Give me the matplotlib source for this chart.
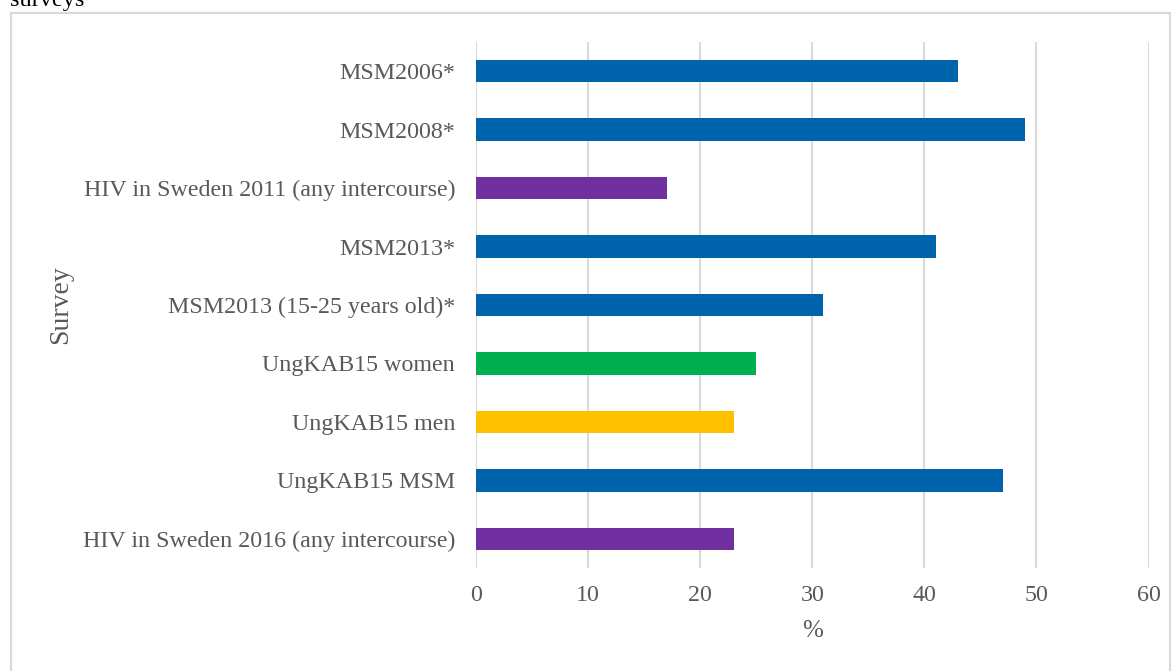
import matplotlib
matplotlib.use("Agg")
import matplotlib.pyplot as plt
from matplotlib.patches import Rectangle

# Survey results (% reporting), top to bottom as listed
surveys = [
    "MSM2006*",
    "MSM2008*",
    "HIV in Sweden 2011 (any intercourse)",
    "MSM2013*",
    "MSM2013 (15-25 years old)*",
    "UngKAB15 women",
    "UngKAB15 men",
    "UngKAB15 MSM",
    "HIV in Sweden 2016 (any intercourse)",
]
values = [43, 49, 17, 41, 31, 25, 23, 47, 23]
groups = ["msm", "msm", "general", "msm", "msm", "women", "men", "msm", "general"]
group_colors = {
    "msm": "#0064AD",
    "general": "#7030A0",
    "women": "#00B050",
    "men": "#FFC000",
}
x_ticks = [0, 10, 20, 30, 40, 50, 60]

plt.rcParams["font.family"] = ["Liberation Serif", "DejaVu Serif"]
text_color = "#595959"

fig = plt.figure(figsize=(11.71, 6.71), dpi=100)
ax = fig.add_axes([476 / 1171, 1 - 568 / 671, (1148.5 - 476) / 1171, (568 - 42) / 671])

positions = list(range(len(surveys)))
ax.barh(positions, values, height=0.385,
        color=[group_colors[g] for g in groups], zorder=3)

ax.set_ylim(len(surveys) - 0.5, -0.5)
ax.set_xlim(0, 60)
ax.set_xticks(x_ticks)
ax.set_yticks(positions)
ax.set_yticklabels(surveys)

ax.grid(axis="x", color="#d9d9d9", linewidth=1.5, zorder=0)
ax.grid(axis="y", visible=False)
for s in ax.spines.values():
    s.set_visible(False)

ax.tick_params(axis="y", length=0, pad=15, labelsize=17.3, labelcolor=text_color)
ax.tick_params(axis="x", length=0, pad=12, labelsize=17.3, labelcolor=text_color)

ax.set_xlabel("%", fontsize=18, color=text_color, labelpad=10)
ax.set_ylabel("Survey", fontsize=20, color=text_color)
ax.yaxis.set_label_coords(-0.599, 0.5, transform=ax.transAxes)

# Chart border frame
fig.patches.append(Rectangle((10.5 / 1171, -0.05), (1170 - 10.5) / 1171, 1.05 - 12.5 / 671,
                             transform=fig.transFigure, fill=False,
                             edgecolor="#d9d9d9", linewidth=1.5))

# Caption tail above the frame
fig.text(10 / 1171, 1 - 6 / 671, "surveys", fontsize=17.5, color="black",
         ha="left", va="baseline")

fig.savefig("out.png", dpi=100)
